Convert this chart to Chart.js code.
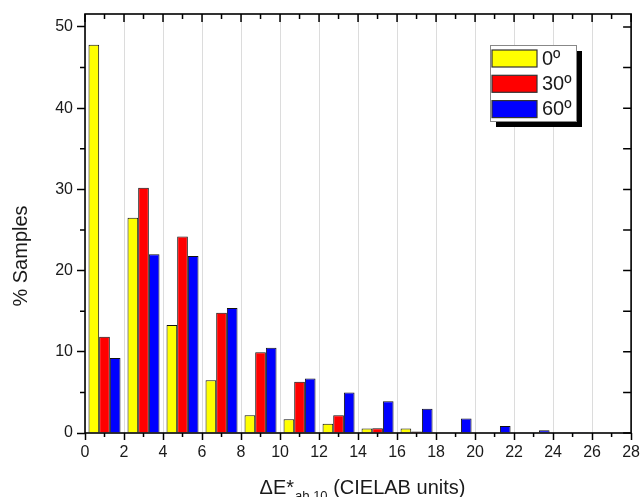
<!DOCTYPE html>
<html>
<head>
<meta charset="utf-8">
<script src="https://cdn.jsdelivr.net/npm/chart.js@4/dist/chart.umd.min.js"></script>
<style>
html, body { margin: 0; padding: 0; background: #fff; }
#wrap { width: 643px; height: 497px; }
</style>
</head>
<body>
<div id="wrap"><canvas id="bar_chart"></canvas></div>
<script>
const bar_chart = document.querySelector('#bar_chart')

// bin centres (dE units) and % of samples per angle
const bins = [1, 3, 5, 7, 9, 11, 13, 15, 17, 19, 21, 23, 25, 27]
const deg0 = [47.8, 26.5, 13.3, 6.5, 2.2, 1.7, 1.15, 0.55, 0.55, 0, 0, 0, 0, 0]
const deg30 = [11.85, 30.2, 24.2, 14.8, 9.95, 6.3, 2.2, 0.6, 0.17, 0, 0, 0, 0, 0]
const deg60 = [9.25, 22.0, 21.8, 15.4, 10.5, 6.7, 5.0, 3.9, 3.0, 1.8, 0.85, 0.33, 0.1, 0]
const seriesNames = ['0º', '30º', '60º']

const xTickValues = [0, 2, 4, 6, 8, 10, 12, 14, 16, 18, 20, 22, 24, 26, 28]
const xMinor = [1, 3, 5, 7, 9, 11, 13, 15, 17, 19, 21, 23, 25, 27]
const yTickValues = [0, 10, 20, 30, 40, 50]
const yMinor = [5, 15, 25, 35, 45]

const font = 'Arial, "Liberation Sans", sans-serif'

// box, extra tick marks, titles and legend
const decor = {
    id: 'decor',
    afterDraw(chart) {
        const { ctx, chartArea: a, scales: { x, y } } = chart
        ctx.save()
        ctx.strokeStyle = '#000'
        ctx.lineWidth = 1.5
        ctx.beginPath()
        xMinor.forEach(v => {
            const px = x.getPixelForValue(v)
            ctx.moveTo(px, a.bottom); ctx.lineTo(px, a.bottom + 4)
            ctx.moveTo(px, a.top); ctx.lineTo(px, a.top + 5)
        })
        xTickValues.forEach(v => {
            const px = x.getPixelForValue(v)
            ctx.moveTo(px, a.top); ctx.lineTo(px, a.top + 8)
        })
        yMinor.forEach(v => {
            const py = y.getPixelForValue(v)
            ctx.moveTo(a.left, py); ctx.lineTo(a.left - 5, py)
        })
        yTickValues.concat(yMinor).forEach(v => {
            const py = y.getPixelForValue(v)
            ctx.moveTo(a.right, py); ctx.lineTo(a.right - 8, py)
        })
        ctx.stroke()
        ctx.lineWidth = 1.6
        ctx.strokeRect(a.left, a.top, a.right - a.left, a.bottom - a.top)

        // y title
        ctx.fillStyle = '#1a1a1a'
        ctx.font = '20px ' + font
        ctx.textAlign = 'center'
        ctx.textBaseline = 'middle'
        ctx.save()
        ctx.translate(21, 256)
        ctx.rotate(-Math.PI / 2)
        ctx.fillText('% Samples', 0, 0)
        ctx.restore()

        // x title with subscript
        ctx.textAlign = 'left'
        ctx.textBaseline = 'alphabetic'
        const p1 = 'ΔE*', p2 = 'ab,10', p3 = ' (CIELAB units)'
        ctx.font = '20px ' + font
        const w1 = ctx.measureText(p1).width, w3 = ctx.measureText(p3).width
        ctx.font = '13px ' + font
        const w2 = ctx.measureText(p2).width
        let sx = 362 - (w1 + w2 + w3) / 2
        ctx.font = '20px ' + font
        ctx.fillText(p1, sx, 494)
        ctx.font = '13px ' + font
        ctx.fillText(p2, sx + w1 + 1, 500)
        ctx.font = '20px ' + font
        ctx.fillText(p3, sx + w1 + w2 + 1, 494)

        // legend
        const lx = 490, ly = 45, lw = 86, lh = 76
        ctx.fillStyle = '#000'
        ctx.fillRect(lx + 6, ly + 6, lw, lh)
        ctx.fillStyle = '#fff'
        ctx.fillRect(lx, ly, lw, lh)
        ctx.strokeStyle = '#888'
        ctx.lineWidth = 1
        ctx.strokeRect(lx + 0.5, ly + 0.5, lw, lh)
        chart.data.datasets.forEach((ds, i) => {
            const ry = ly + 5 + i * 25.3
            ctx.fillStyle = ds.backgroundColor
            ctx.fillRect(lx + 2, ry, 45, 17)
            ctx.strokeStyle = '#333'
            ctx.lineWidth = 1.2
            ctx.strokeRect(lx + 2, ry, 45, 17)
            ctx.fillStyle = '#1a1a1a'
            ctx.font = '20px ' + font
            ctx.textBaseline = 'middle'
            ctx.fillText(ds.label, lx + 52, ry + 9)
        })
        ctx.restore()
    }
}

new Chart(bar_chart, {
    type: 'bar',
    data: {
        labels: bins,
        datasets: [
            { label: seriesNames[0], data: deg0, backgroundColor: '#ffff00' },
            { label: seriesNames[1], data: deg30, backgroundColor: '#ff0000' },
            { label: seriesNames[2], data: deg60, backgroundColor: '#0000ff' }
        ]
    },
    options: {
        responsive: true,
        maintainAspectRatio: false,
        animation: false,
        layout: { padding: { top: 14, right: 9, left: 0, bottom: 0 } },
        datasets: {
            bar: {
                categoryPercentage: 0.82,
                barPercentage: 1,
                borderColor: '#111',
                borderWidth: 1
            }
        },
        plugins: {
            legend: { display: false },
            tooltip: { enabled: false }
        },
        scales: {
            x: {
                type: 'linear',
                min: 0,
                max: 28,
                offset: false,
                afterBuildTicks: s => { s.ticks = xTickValues.map(v => ({ value: v })) },
                afterFit: s => { s.height = 64 },
                ticks: {
                    color: '#1a1a1a',
                    font: { family: font, size: 16 },
                    padding: 3,
                    maxRotation: 0,
                    autoSkip: false
                },
                grid: {
                    offset: false,
                    color: '#dcdcdc',
                    lineWidth: 1,
                    tickColor: '#000',
                    tickWidth: 1.5,
                    tickLength: 7
                },
                border: { display: false }
            },
            y: {
                min: 0,
                max: 51.6,
                afterBuildTicks: s => { s.ticks = yTickValues.map(v => ({ value: v })) },
                afterFit: s => { s.width = 85 },
                ticks: {
                    color: '#1a1a1a',
                    font: { family: font, size: 16 },
                    padding: 4
                },
                grid: {
                    drawOnChartArea: false,
                    tickColor: '#000',
                    tickWidth: 1.5,
                    tickLength: 8
                },
                border: { display: false }
            }
        }
    },
    plugins: [decor]
})
</script>
</body>
</html>
